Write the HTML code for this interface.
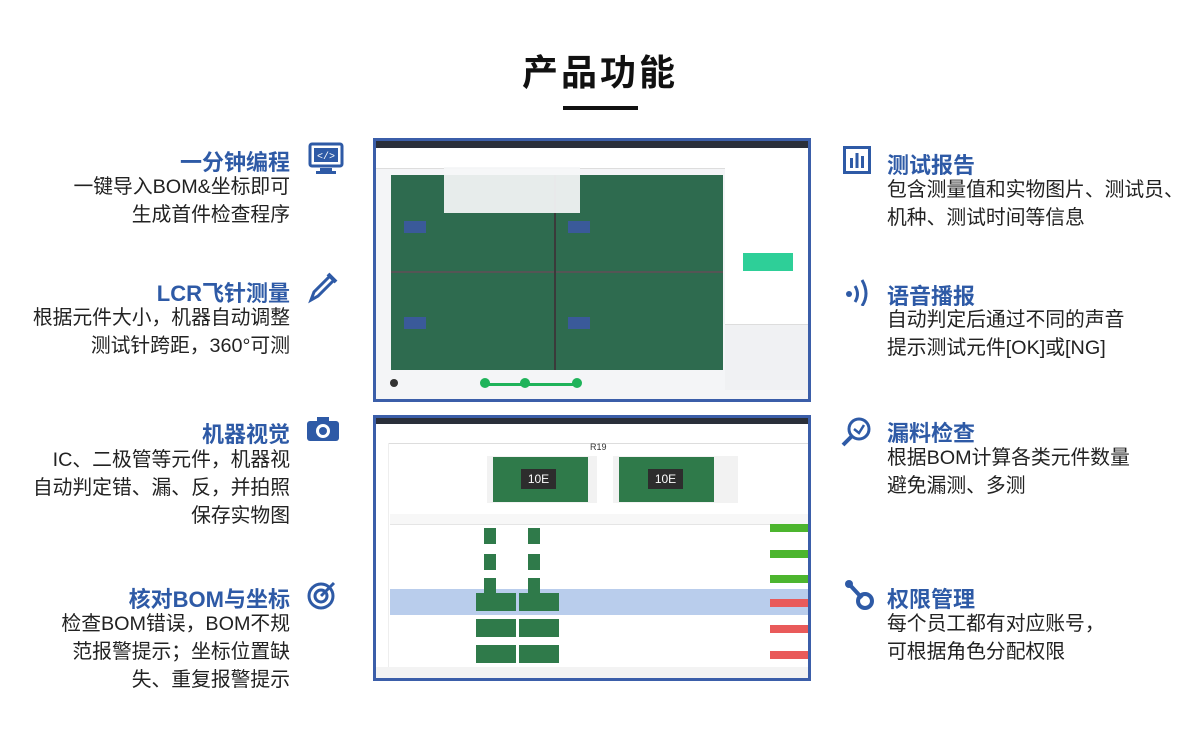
<!DOCTYPE html>
<html><head><meta charset="utf-8"><style>
body{margin:0;width:1200px;height:756px;background:#fff;position:relative;overflow:hidden;font-family:"Liberation Sans","Noto Sans CJK SC",sans-serif}
.t{position:absolute;white-space:nowrap}
.h{font-size:22px;font-weight:bold;color:#2e5aa6}
.b{font-size:19.8px;color:#222;line-height:28px}
.L{right:910px;text-align:right}
.R{left:887px}
.fr{position:absolute;left:373px;width:432px;border:3px solid #3b5ea9;background:#f4f5f7;overflow:hidden}
.ic{position:absolute;color:#2e5aa6}
</style></head><body>
<div class="t" style="left:0;width:1200px;text-align:center;top:44px;font-size:36px;font-weight:bold;color:#111;letter-spacing:3px">产品功能</div>
<div style="position:absolute;left:563px;top:106px;width:75px;height:4px;background:#111"></div>

<div class="t h L" style="top:145px">一分钟编程</div>
<div class="t b L" style="top:173px">一键导入BOM&amp;坐标即可<br>生成首件检查程序</div>
<div class="t h L" style="top:276px">LCR飞针测量</div>
<div class="t b L" style="top:304px">根据元件大小，机器自动调整<br>测试针跨距，360°可测</div>
<div class="t h L" style="top:417px">机器视觉</div>
<div class="t b L" style="top:446px">IC、二极管等元件，机器视<br>自动判定错、漏、反，并拍照<br>保存实物图</div>
<div class="t h L" style="top:582px">核对BOM与坐标</div>
<div class="t b L" style="top:610px">检查BOM错误，BOM不规<br>范报警提示；坐标位置缺<br>失、重复报警提示</div>

<div class="t h R" style="top:148px">测试报告</div>
<div class="t b R" style="top:176px">包含测量值和实物图片、测试员、<br>机种、测试时间等信息</div>
<div class="t h R" style="top:279px">语音播报</div>
<div class="t b R" style="top:306px">自动判定后通过不同的声音<br>提示测试元件[OK]或[NG]</div>
<div class="t h R" style="top:416px">漏料检查</div>
<div class="t b R" style="top:444px">根据BOM计算各类元件数量<br>避免漏测、多测</div>
<div class="t h R" style="top:582px">权限管理</div>
<div class="t b R" style="top:610px">每个员工都有对应账号，<br>可根据角色分配权限</div>

<!-- icons -->
<svg class="ic" style="left:308px;top:142px" width="36" height="34"><rect x="2" y="2" width="32" height="22" rx="2" fill="none" stroke="#2e5aa6" stroke-width="3"/><rect x="6" y="6" width="24" height="14" fill="#2e5aa6"/><text x="18" y="17" fill="#fff" font-size="10" text-anchor="middle" font-family="Liberation Mono">&lt;/&gt;</text><rect x="12" y="26" width="12" height="3" fill="#2e5aa6"/><rect x="8" y="29" width="20" height="3" fill="#2e5aa6"/></svg>
<svg style="position:absolute;left:306px;top:270px" width="34" height="34"><path d="M5 30 L8 22 L24 6 L28 10 L12 26 Z" fill="none" stroke="#2e5aa6" stroke-width="3"/><path d="M22 4 L30 12" stroke="#2e5aa6" stroke-width="4"/></svg>
<svg style="position:absolute;left:306px;top:416px" width="34" height="26"><rect x="1" y="5" width="32" height="20" rx="3" fill="#2e5aa6"/><rect x="11" y="1" width="12" height="6" fill="#2e5aa6"/><circle cx="17" cy="15" r="7" fill="#fff"/><circle cx="17" cy="15" r="4" fill="#2e5aa6"/></svg>
<svg style="position:absolute;left:306px;top:579px" width="32" height="32"><circle cx="15" cy="17" r="12" fill="none" stroke="#2e5aa6" stroke-width="3"/><circle cx="15" cy="17" r="6" fill="none" stroke="#2e5aa6" stroke-width="3"/><path d="M15 17 L28 4" stroke="#2e5aa6" stroke-width="3"/></svg>
<svg style="position:absolute;left:843px;top:146px" width="28" height="28"><rect x="1.5" y="1.5" width="25" height="25" fill="none" stroke="#2e5aa6" stroke-width="3"/><rect x="7" y="12" width="3" height="10" fill="#2e5aa6"/><rect x="12.5" y="7" width="3" height="15" fill="#2e5aa6"/><rect x="18" y="10" width="3" height="12" fill="#2e5aa6"/></svg>
<svg style="position:absolute;left:843px;top:276px" width="30" height="30"><circle cx="6" cy="18" r="3" fill="#2e5aa6"/><path d="M12 10 Q17 18 12 26" fill="none" stroke="#2e5aa6" stroke-width="3"/><path d="M19 4 Q27 18 19 30" fill="none" stroke="#2e5aa6" stroke-width="3"/></svg>
<svg style="position:absolute;left:840px;top:416px" width="32" height="32"><circle cx="19" cy="13" r="10" fill="none" stroke="#2e5aa6" stroke-width="3"/><path d="M14 13 L19 17 L24 9" fill="none" stroke="#2e5aa6" stroke-width="2.5"/><path d="M12 20 L3 29" stroke="#2e5aa6" stroke-width="4"/></svg>
<svg style="position:absolute;left:842px;top:578px" width="34" height="34"><circle cx="7" cy="6" r="4" fill="#2e5aa6"/><path d="M7 6 L20 20" stroke="#2e5aa6" stroke-width="4"/><circle cx="23" cy="23" r="7" fill="none" stroke="#2e5aa6" stroke-width="4"/></svg>

<!-- screenshot 1 -->
<div class="fr" style="top:138px;height:258px">
 <div style="position:absolute;left:0;top:0;width:100%;height:7px;background:#2a2f3a"></div>
 <div style="position:absolute;left:0;top:7px;width:100%;height:20px;background:#fff;border-bottom:1px solid #ddd"></div>
 <div style="position:absolute;left:15px;top:34px;width:332px;height:195px;background:#2e6b4f"></div>
 <div style="position:absolute;left:15px;top:130px;width:332px;height:2px;background:#555"></div>
 <div style="position:absolute;left:178px;top:34px;width:2px;height:195px;background:#3a3a3a"></div>
 <div style="position:absolute;left:28px;top:80px;width:22px;height:12px;background:#3a5a9a"></div>
 <div style="position:absolute;left:192px;top:80px;width:22px;height:12px;background:#3a5a9a"></div>
 <div style="position:absolute;left:28px;top:176px;width:22px;height:12px;background:#3a5a9a"></div>
 <div style="position:absolute;left:192px;top:176px;width:22px;height:12px;background:#3a5a9a"></div>
 <div style="position:absolute;left:68px;top:26px;width:136px;height:46px;background:rgba(245,246,248,.93)"></div>
 <div style="position:absolute;left:349px;top:27px;width:83px;height:221px;background:#fff"></div>
 <div style="position:absolute;left:367px;top:112px;width:50px;height:18px;background:#2ecf98"></div>
 <div style="position:absolute;left:349px;top:183px;width:83px;height:65px;background:#f0f1f3;border-top:1px solid #ddd"></div>
 <div style="position:absolute;left:108px;top:242px;width:96px;height:3px;background:#1fb35a"></div>
 <div style="position:absolute;left:104px;top:237px;width:10px;height:10px;border-radius:50%;background:#1fb35a"></div>
 <div style="position:absolute;left:144px;top:237px;width:10px;height:10px;border-radius:50%;background:#1fb35a"></div>
 <div style="position:absolute;left:196px;top:237px;width:10px;height:10px;border-radius:50%;background:#1fb35a"></div>
 <div style="position:absolute;left:14px;top:238px;width:8px;height:8px;border-radius:50%;background:#333"></div>
</div>

<!-- screenshot 2 -->
<div class="fr" style="top:415px;height:260px;background:#fff">
 <div style="position:absolute;left:0;top:0;width:100%;height:6px;background:#2a2f3a"></div>
 <div style="position:absolute;left:0;top:6px;width:100%;height:19px;border-bottom:1px solid #ddd"></div>
 <div style="position:absolute;left:0;top:25px;width:12px;height:235px;background:#fff;border-right:1px solid #eee"></div>
 <div class="t" style="left:214px;top:24px;font-size:9px;color:#333">R19</div>
 <div style="position:absolute;left:111px;top:38px;width:110px;height:47px;background:#f2f2f2"></div>
 <div style="position:absolute;left:237px;top:38px;width:125px;height:47px;background:#f2f2f2"></div>
 <div style="position:absolute;left:117px;top:39px;width:95px;height:45px;background:#2f7a4a"></div>
 <div style="position:absolute;left:243px;top:39px;width:95px;height:45px;background:#2f7a4a"></div>
 <div style="position:absolute;left:145px;top:51px;width:35px;height:20px;background:#2d2d2d;color:#fff;font-size:12px;text-align:center;line-height:20px">10E</div>
 <div style="position:absolute;left:272px;top:51px;width:35px;height:20px;background:#2d2d2d;color:#fff;font-size:12px;text-align:center;line-height:20px">10E</div>
 <div style="position:absolute;left:14px;top:96px;width:418px;height:10px;background:#f7f7f7;border-bottom:1px solid #e5e5e5"></div>
 <div style="position:absolute;left:14px;top:171px;width:418px;height:26px;background:#b9cdec"></div>
 <div style="position:absolute;left:108px;top:110px;width:12px;height:16px;background:#2f7a4a"></div><div style="position:absolute;left:152px;top:110px;width:12px;height:16px;background:#2f7a4a"></div>
 <div style="position:absolute;left:108px;top:136px;width:12px;height:16px;background:#2f7a4a"></div><div style="position:absolute;left:152px;top:136px;width:12px;height:16px;background:#2f7a4a"></div>
 <div style="position:absolute;left:108px;top:160px;width:12px;height:16px;background:#2f7a4a"></div><div style="position:absolute;left:152px;top:160px;width:12px;height:16px;background:#2f7a4a"></div>
 <div style="position:absolute;left:100px;top:175px;width:40px;height:18px;background:#2f7a4a"></div><div style="position:absolute;left:143px;top:175px;width:40px;height:18px;background:#2f7a4a"></div>
 <div style="position:absolute;left:100px;top:201px;width:40px;height:18px;background:#2f7a4a"></div><div style="position:absolute;left:143px;top:201px;width:40px;height:18px;background:#2f7a4a"></div>
 <div style="position:absolute;left:100px;top:227px;width:40px;height:18px;background:#2f7a4a"></div><div style="position:absolute;left:143px;top:227px;width:40px;height:18px;background:#2f7a4a"></div>
 <div style="position:absolute;left:394px;top:106px;width:38px;height:8px;background:#4cb52e"></div>
 <div style="position:absolute;left:394px;top:132px;width:38px;height:8px;background:#4cb52e"></div>
 <div style="position:absolute;left:394px;top:157px;width:38px;height:8px;background:#4cb52e"></div>
 <div style="position:absolute;left:394px;top:181px;width:38px;height:8px;background:#e95a5a"></div>
 <div style="position:absolute;left:394px;top:207px;width:38px;height:8px;background:#e95a5a"></div>
 <div style="position:absolute;left:394px;top:233px;width:38px;height:8px;background:#e95a5a"></div>
 <div style="position:absolute;left:0;top:249px;width:100%;height:11px;background:#f3f3f3"></div>
</div>
</body></html>
